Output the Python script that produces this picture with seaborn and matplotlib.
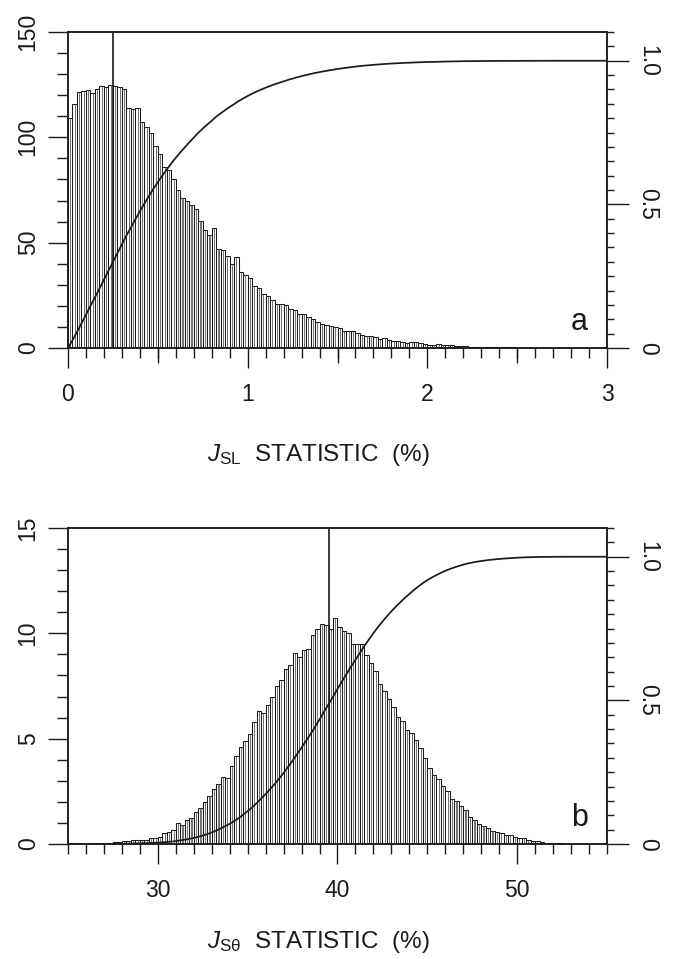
import numpy as np
import pandas as pd
import matplotlib
matplotlib.use("Agg")
import matplotlib.pyplot as plt
import seaborn as sns

# ---------------- data ----------------
# panel a: J_SL statistic (%), bins of 0.025 from 0 to 3
a_bin_start = 0.0
a_bin_width = 0.025
a_counts = [
    109, 116, 121.5, 122, 122.5, 121, 123, 124.5, 124, 125,
    124.5, 124, 123, 114, 113.5, 114, 107.5, 105, 102, 96,
    92, 86, 84.5, 80, 75, 71, 70, 68, 66, 60.5,
    56, 53.5, 57, 47, 46.5, 43.5, 40, 43, 36, 34.6,
    33, 29.5, 28.3, 25.5, 24.5, 23, 21, 21, 20.5, 18.5,
    18, 16.3, 16, 14.5, 14, 12.5, 11.5, 11, 10.6, 10.2,
    9.5, 8, 8.3, 8.2, 7, 6.3, 5.5, 5.6, 5.1, 4.2,
    4.6, 3.8, 3.5, 3.4, 3.0, 2.5, 2.8, 2.7, 2.2, 1.9,
    1.4, 1.5, 1.9, 1.6, 1.3, 1.4, 1.0, 1.0, 0.8, 0.7,
    0.6, 0.5, 0.5, 0.4, 0.4, 0.35, 0.3, 0.3, 0.25, 0.25,
    0.2, 0.2, 0.2, 0.15, 0.15, 0.1, 0.1, 0.1, 0.1, 0.08,
    0.08, 0.05, 0.05, 0.05, 0.03, 0.03, 0.02, 0.02, 0.0, 0.0,
]
a_marker = 0.25

# panel b: J_Stheta statistic (%), bins of 0.25 from 25 to 55
b_bin_start = 25.0
b_bin_width = 0.25
b_counts = [
    0, 0, 0, 0, 0, 0, 0.02, 0.02, 0.05, 0.05,
    0.08, 0.1, 0.12, 0.15, 0.18, 0.18, 0.2, 0.2, 0.28, 0.3,
    0.35, 0.52, 0.55, 0.65, 1.0, 0.92, 1.15, 1.25, 1.5, 1.7,
    2.0, 2.3, 2.6, 2.85, 3.2, 3.15, 3.7, 4.2, 4.6, 4.9,
    5.2, 5.8, 6.3, 6.2, 6.6, 7.0, 7.5, 7.8, 8.3, 8.5,
    9.05, 8.9, 9.2, 9.25, 9.9, 10.2, 10.45, 10.4, 10.2, 10.75,
    10.3, 10.1, 10.0, 9.5, 9.47, 9.5, 8.97, 8.6, 8.2, 7.6,
    7.25, 6.9, 6.5, 6.04, 5.85, 5.42, 5.28, 4.95, 4.58, 4.1,
    3.6, 3.28, 3.07, 2.76, 2.5, 2.12, 2.05, 1.82, 1.6, 1.28,
    1.15, 0.96, 0.85, 0.75, 0.64, 0.55, 0.5, 0.44, 0.41, 0.35,
    0.3, 0.27, 0.2, 0.16, 0.12, 0.08, 0.06, 0.05, 0.04, 0.03,
    0.02, 0.02, 0.01, 0.01, 0, 0, 0, 0, 0, 0,
]
b_marker = 39.5

a_xticks = [0, 1, 2, 3]
a_yticks = [0, 50, 100, 150]
b_xticks = [30, 40, 50]
b_yticks = [0, 5, 10, 15]
cum_ticks = [0, 0.5, 1.0]
cum_labels = ["0", "0.5", "1.0"]

# ---------------- style ----------------
sns.set_style("ticks")
plt.rcParams["font.family"] = ["Liberation Sans", "DejaVu Sans"]
plt.rcParams["mathtext.fontset"] = "custom"
plt.rcParams["mathtext.rm"] = "Liberation Sans"
plt.rcParams["mathtext.it"] = "Liberation Sans:italic"
plt.rcParams["mathtext.bf"] = "Liberation Sans:bold"

INK = "#1a1a1a"
TICK_FS = 16.5
LAB_FS = 17.5

fig = plt.figure(figsize=(6.74, 9.59), dpi=100)
fig.patch.set_facecolor("white")

W, H = 674.0, 959.0
def axes_rect(left_px, top_px, right_px, bottom_px):
    return [left_px / W, 1 - bottom_px / H, (right_px - left_px) / W, (bottom_px - top_px) / H]

ax_a = fig.add_axes(axes_rect(68, 32, 607, 348))
ax_b = fig.add_axes(axes_rect(68, 528, 607, 844))


def draw_panel(ax, counts, start, width, xlim, ylim, xticks, yticks, xminor, yminor,
               marker, letter, xlabel, label_y, mid_ticks=None):
    counts = np.asarray(counts, dtype=float)
    n = len(counts)
    edges = start + width * np.arange(n + 1)
    df = pd.DataFrame({"center": edges[:-1] + width / 2, "count": counts})
    # outlined bars
    sns.histplot(data=df, x="center", weights="count", bins=list(edges), element="bars",
                 fill=True, color="white", alpha=1.0, edgecolor=INK, linewidth=0.75, ax=ax)
    # inner vertical hatch line of each bar
    sns.histplot(data=df, x="center", weights="count", bins=list(edges), element="bars",
                 fill=False, shrink=0.02, color="#4a4a4a", edgecolor="#4a4a4a",
                 linewidth=0.55, ax=ax)
    ax.axvline(marker, color=INK, lw=1.2, zorder=5)
    ax.set_xlim(*xlim)
    ax.set_ylim(*ylim)
    ax.set_ylabel("")
    # x ticks
    ax.set_xticks(xticks, labels=[str(t) for t in xticks])
    ax.set_xticks(xminor, minor=True)
    ax.tick_params(axis="x", which="major", bottom=True, direction="out", length=14.4, width=1.0,
                   pad=11, labelsize=TICK_FS, colors=INK)
    ax.tick_params(axis="x", which="minor", bottom=True, direction="out", length=7.5, width=1.0,
                   colors=INK)
    # y ticks
    ax.set_yticks(yticks, labels=[str(t) for t in yticks], rotation=90, va="center")
    ax.set_yticks(yminor, minor=True)
    ax.tick_params(axis="y", which="major", left=True, direction="out", length=14.4, width=1.0,
                   pad=6, labelsize=TICK_FS, colors=INK)
    ax.tick_params(axis="y", which="minor", left=True, direction="out", length=8, width=1.0,
                   colors=INK)
    for s in ax.spines.values():
        s.set_visible(True)
        s.set_color(INK)
        s.set_linewidth(1.1)
    if mid_ticks is not None:
        sec = ax.secondary_xaxis("bottom")
        sec.set_xticks(mid_ticks, labels=["" for _ in mid_ticks])
        sec.tick_params(axis="x", direction="out", length=10.8, width=1.0, colors=INK)
        sec.spines["bottom"].set_visible(False)
    # cumulative curve on right axis
    ax2 = ax.twinx()
    cum = np.concatenate([[0.0], np.cumsum(counts)]) / counts.sum()
    cdf = pd.DataFrame({"edge": edges, "cum": cum})
    sns.lineplot(data=cdf, x="edge", y="cum", ax=ax2, color=INK, lw=1.25, estimator=None, sort=False)
    ax2.set_ylim(0, 1.1)
    ax2.set_ylabel("")
    ax2.set_yticks(cum_ticks, labels=cum_labels, rotation=-90, va="center")
    ax2.set_yticks(np.arange(0, 1.1001, 0.05), minor=True)
    ax2.tick_params(axis="y", which="major", right=True, direction="out", length=15.8, width=1.0,
                    pad=5, labelsize=TICK_FS, colors=INK)
    ax2.tick_params(axis="y", which="minor", right=True, direction="out", length=5, width=1.0,
                    colors=INK)
    for s in ax2.spines.values():
        s.set_visible(True)
        s.set_color(INK)
        s.set_linewidth(1.1)
    ax.text(0.965, 0.057, letter, transform=ax.transAxes, ha="right", va="baseline",
            fontsize=22, color=INK)
    ax.set_xlabel(xlabel, fontsize=LAB_FS, color=INK)
    ax.xaxis.set_label_coords(0.464, label_y)


draw_panel(ax_a, a_counts, a_bin_start, a_bin_width, (0, 3), (0, 150), a_xticks, a_yticks,
           np.arange(0, 3.001, 0.1), np.arange(0, 150.1, 10), a_marker, "a",
           r"$J_{\mathrm{SL}}$  STATISTIC  (%)", -0.297, mid_ticks=[0.5, 1.5, 2.5])
draw_panel(ax_b, b_counts, b_bin_start, b_bin_width, (25, 55), (0, 15), b_xticks, b_yticks,
           np.arange(25, 55.01, 1), np.arange(0, 15.01, 1), b_marker, "b",
           r"$J_{\mathrm{S\theta}}$  STATISTIC  (%)", -0.269)

fig.savefig("out.png", dpi=100, facecolor="white")
